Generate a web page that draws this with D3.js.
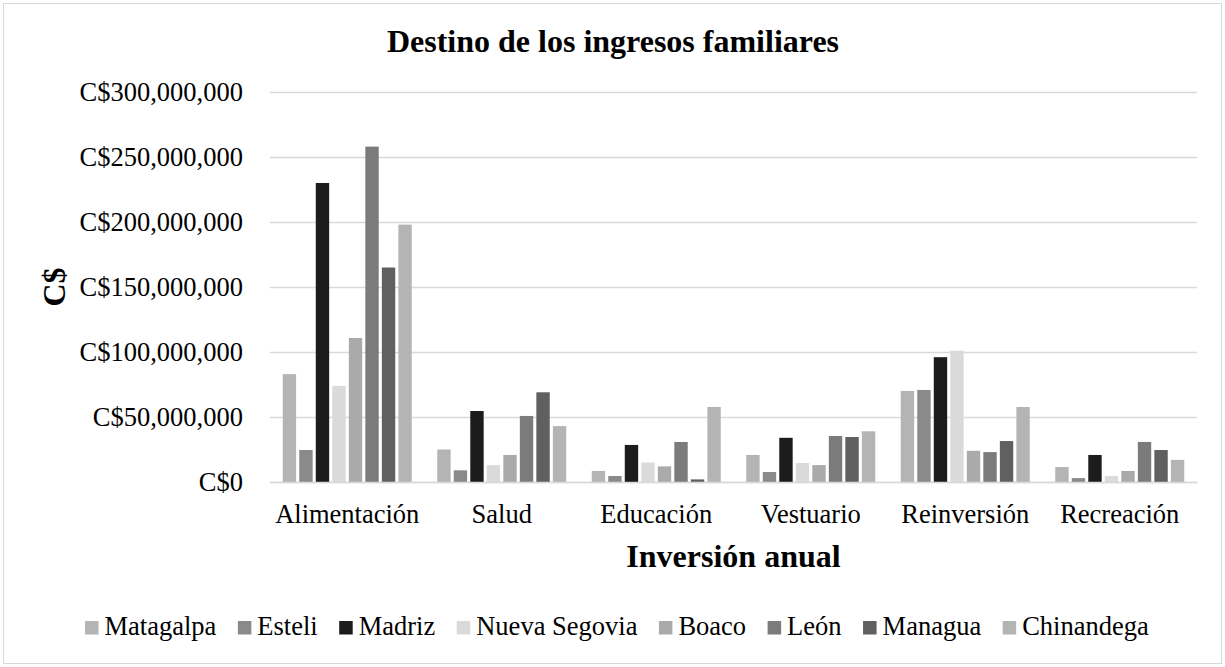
<!DOCTYPE html>
<html>
<head>
<meta charset="utf-8">
<script src="https://cdn.jsdelivr.net/npm/d3@7"></script>
<style>
	body { margin: 0; background: #fff; }
	svg text { font-family: "Liberation Serif", "Times New Roman", serif; fill: #000; }
</style>
</head>
<body>
<svg id="chart"></svg>
<script>
const categories = ["Alimentación", "Salud", "Educación", "Vestuario", "Reinversión", "Recreación"];
const regions = ["Matagalpa", "Esteli", "Madriz", "Nueva Segovia", "Boaco", "León", "Managua", "Chinandega"];
const regionColors = ["#b4b4b4", "#8a8a8a", "#1c1c1c", "#dadada", "#aaaaaa", "#7b7b7b", "#606060", "#b4b4b4"];

// values per region, in the order of categories (C$)
const matagalpa    = [83e6, 25e6, 8.5e6, 20.8e6, 70e6, 11.5e6];
const esteli       = [24.6e6, 9e6, 4.6e6, 7.7e6, 70.8e6, 3e6];
const madriz       = [230e6, 54.6e6, 28.5e6, 34e6, 96e6, 20.8e6];
const nuevaSegovia = [74e6, 13e6, 15e6, 14.6e6, 101e6, 4.6e6];
const boaco        = [110.8e6, 20.8e6, 12e6, 13e6, 24e6, 8.5e6];
const leon         = [258e6, 50.8e6, 30.8e6, 35.4e6, 23e6, 30.8e6];
const managua      = [165e6, 69e6, 2e6, 34.6e6, 31.5e6, 24.6e6];
const chinandega   = [198e6, 43e6, 57.7e6, 39e6, 57.7e6, 17e6];

const yTicks = [0, 50e6, 100e6, 150e6, 200e6, 250e6, 300e6];

const seriesValues = [matagalpa, esteli, madriz, nuevaSegovia, boaco, leon, managua, chinandega];

function drawChart() {
	const width = 1225;
	const height = 667;
	const margin = { left: 270, right: 28, top: 92, bottom: 185 };
	const fontFamily = "'Liberation Serif', 'Times New Roman', serif";

	const svg = d3.select("#chart")
		.attr("width", width)
		.attr("height", height);

	svg.append("rect")
		.attr("x", 3.5)
		.attr("y", 3.5)
		.attr("width", width - 7)
		.attr("height", height - 7)
		.attr("fill", "#fff")
		.attr("stroke", "#d9d9d9")
		.attr("stroke-width", 1);

	let xScale = d3.scaleBand()
		.domain(categories)
		.range([margin.left, width - margin.right])
		.paddingInner(0.165)
		.paddingOuter(0.0825);

	let xInner = d3.scaleBand()
		.domain(regions)
		.range([0, xScale.bandwidth()])
		.paddingInner(0.19)
		.paddingOuter(0);

	let yScale = d3.scaleLinear()
		.domain([0, 300e6])
		.range([height - margin.bottom, margin.top]);

	let yAxis = d3.axisLeft(yScale)
		.tickValues(yTicks)
		.tickSize(-(width - margin.left - margin.right))
		.tickPadding(27)
		.tickFormat((d) => "C$" + d3.format(",")(d));

	let gy = svg.append("g")
		.attr("transform", `translate(${margin.left}, 0)`)
		.call(yAxis);
	gy.select(".domain").remove();
	gy.selectAll("line")
		.attr("stroke", "#d9d9d9")
		.attr("stroke-width", 1.5);
	gy.selectAll("text")
		.style("font-size", "26.5px")
		.style("font-family", fontFamily)
		.attr("fill", "#000");

	// bars
	let rows = [];
	categories.forEach((c, ci) => {
		regions.forEach((r, ri) => {
			rows.push({ cat: c, region: r, value: seriesValues[ri][ci], color: regionColors[ri] });
		});
	});

	svg.append("g")
		.selectAll("rect")
		.data(rows)
		.enter()
		.append("rect")
			.attr("x", (d) => xScale(d.cat) + xInner(d.region))
			.attr("y", (d) => yScale(d.value))
			.attr("width", xInner.bandwidth())
			.attr("height", (d) => yScale(0) - yScale(d.value))
			.attr("fill", (d) => d.color);

	let xAxis = d3.axisBottom(xScale)
		.tickSize(0)
		.tickPadding(22);

	let gx = svg.append("g")
		.attr("transform", `translate(0, ${yScale(0)})`)
		.call(xAxis);
	gx.select(".domain")
		.attr("stroke", "#d9d9d9")
		.attr("stroke-width", 1.5);
	gx.selectAll("text")
		.style("font-size", "26.5px")
		.style("font-family", fontFamily)
		.attr("fill", "#000");

	// titles
	svg.append("text")
		.attr("x", 613)
		.attr("y", 52)
		.style("text-anchor", "middle")
		.style("font-size", "32px")
		.style("font-weight", "bold")
		.text("Destino de los ingresos familiares");

	svg.append("text")
		.attr("x", (margin.left + width - margin.right) / 2)
		.attr("y", 567)
		.style("text-anchor", "middle")
		.style("font-size", "32px")
		.style("font-weight", "bold")
		.text("Inversión anual");

	svg.append("text")
		.attr("transform", "rotate(-90)")
		.attr("x", -287)
		.attr("y", 65)
		.style("text-anchor", "middle")
		.style("font-size", "32px")
		.style("font-weight", "bold")
		.text("C$");

	// legend
	let legend = svg.append("g");
	let items = legend.selectAll("g")
		.data(regions)
		.enter()
		.append("g");
	items.append("rect")
		.attr("width", 13.5)
		.attr("height", 13.5)
		.attr("y", -14)
		.attr("fill", (d, i) => regionColors[i]);
	items.append("text")
		.attr("x", 19.5)
		.style("font-size", "26.5px")
		.text((d) => d);

	let offset = 85;
	let positions = [];
	items.each(function() {
		positions.push(offset);
		let w = d3.select(this).select("text").node().getComputedTextLength();
		offset += 19.5 + w + 21.5;
	});
	items.attr("transform", (d, i) => `translate(${positions[i]}, 635)`);
}

document.addEventListener("DOMContentLoaded", drawChart);
</script>
</body>
</html>
